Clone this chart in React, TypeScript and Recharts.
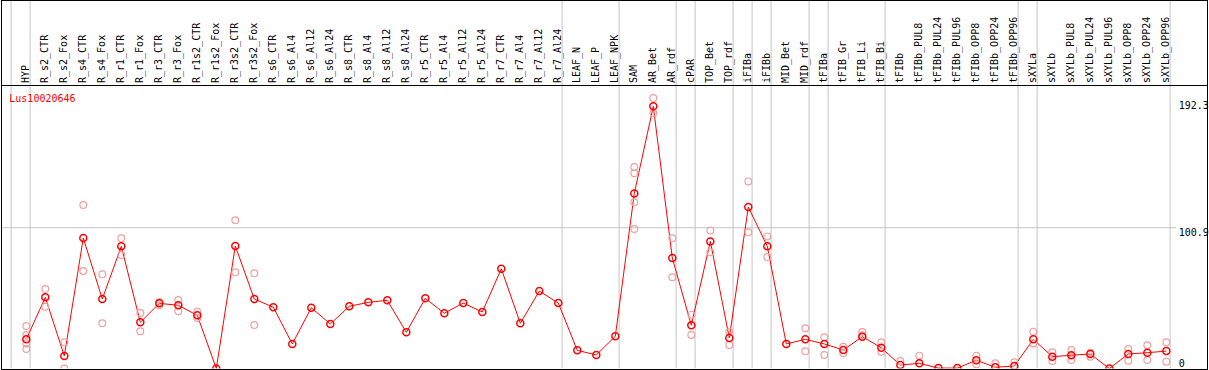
import React from 'react';
import { ComposedChart, Line, Scatter, XAxis, YAxis, ReferenceLine } from 'recharts';

const categories = [
  'HYP', 'R_s2_CTR', 'R_s2_Fox', 'R_s4_CTR', 'R_s4_Fox', 'R_r1_CTR', 'R_r1_Fox', 'R_r3_CTR', 'R_r3_Fox',
  'R_r1s2_CTR', 'R_r1s2_Fox', 'R_r3s2_CTR', 'R_r3s2_Fox', 'R_s6_CTR', 'R_s6_Al4', 'R_s6_Al12', 'R_s6_Al24',
  'R_s8_CTR', 'R_s8_Al4', 'R_s8_Al12', 'R_s8_Al24', 'R_r5_CTR', 'R_r5_Al4', 'R_r5_Al12', 'R_r5_Al24',
  'R_r7_CTR', 'R_r7_Al4', 'R_r7_Al12', 'R_r7_Al24', 'LEAF_N', 'LEAF_P', 'LEAF_NPK', 'SAM', 'AR_Bet', 'AR_rdf',
  'cPAR', 'TOP_Bet', 'TOP_rdf', 'iFIBa', 'iFIBb', 'MID_Bet', 'MID_rdf', 'tFIBa', 'tFIB_Gr', 'tFIB_Li', 'tFIB_Bi',
  'tFIBb', 'tFIBb_PUL8', 'tFIBb_PUL24', 'tFIBb_PUL96', 'tFIBb_OPP8', 'tFIBb_OPP24', 'tFIBb_OPP96',
  'sXYLa', 'sXYLb', 'sXYLb_PUL8', 'sXYLb_PUL24', 'sXYLb_PUL96', 'sXYLb_OPP8', 'sXYLb_OPP24', 'sXYLb_OPP96',
];

const means = [
  20.9, 51.0, 9.0, 93.5, 49.8, 87.6, 33.1, 46.7, 45.3,
  38.1, 0, 87.8, 49.8, 43.9, 17.6, 43.6, 31.9,
  44.6, 47.4, 48.9, 25.9, 50.3, 39.6, 46.9, 40.5,
  71.5, 32.4, 55.5, 46.9, 13.0, 9.7, 23.1, 125.5, 187.9, 79.2,
  31.0, 91.1, 21.9, 115.7, 87.6, 17.6, 20.9, 17.6, 13.3, 22.8, 14.9,
  2.5, 3.7, 0.3, 0.3, 5.9, 0.9, 1.8,
  20.9, 8.5, 9.5, 10.4, 0, 10.4, 11.3, 12.5,
];

const replicates: number[][] = [
  [30.5, 24, 18, 14], [57, 44.3], [18.8, 0], [117.2, 69.9], [67.5, 32.4], [93.3, 81.3], [39.8, 26.7], [47.6, 45.4], [49.1, 41],
  [40.7, 36.2], [], [106.2, 68.9], [68.2, 31.2], [], [], [], [],
  [], [], [], [], [], [], [], [],
  [], [], [], [], [], [], [], [144.4, 139.9, 119.1, 100.0], [193.8, 183.1], [93.3, 65.4],
  [38.6, 24], [99.0, 83.3], [26.2, 16.8], [134.1, 97.6], [94.7, 79.9], [], [28.8, 12.3], [22.4, 9.7], [15.6, 10.9], [26.2, 23.8], [18.8, 12],
  [5.4], [9.2], [], [], [9.2, 3], [3.7], [4.4],
  [26.4, 18], [11.6, 5.4], [13.3, 6.1], [11.3, 8.5], [], [14, 5.6], [16.6, 6.1], [18.8, 4.9],
];

const yTicks = [0, 100.9, 192.3];
// 1-based position of the last category of each group (0 = boundary before the first category)
const groupEnds = [0, 1, 29, 32, 35, 36, 38, 39, 40, 42, 43, 46, 53, 54, 61];
const geneName = 'Lus10020646';

const W = 1209;
const H = 370;
const SEP_OFFSET = 0.2;
const FONT = '"DejaVu Sans Mono", "Liberation Mono", monospace';
const GRID = '#c4c4c4';

const lineData = categories.map((c, i) => ({ pos: i + 1, mean: means[i], name: c }));
const repData = replicates.flatMap((arr, i) => arr.map((v) => ({ pos: i + 1, mean: v })));
const separators = groupEnds.map((g) => g + SEP_OFFSET);
const topTicks = [...categories.map((_, i) => i + 1), ...separators];

const TopTick = (props: any) => {
  const { x, y, payload } = props;
  const v = payload.value;
  if (!Number.isInteger(v)) {
    return <line x1={x} x2={x} y1={0} y2={y} stroke={GRID} strokeWidth={1} />;
  }
  return (
    <text
      transform={`translate(${x + 3},${y - 2}) rotate(-90)`}
      x={0}
      y={0}
      textAnchor="start"
      fontFamily={FONT}
      fontSize={10}
      fill="#000"
    >
      {categories[v - 1]}
    </text>
  );
};

const RightTick = (props: any) => {
  const { x, y, payload } = props;
  const v = payload.value;
  return (
    <text x={x + 2.7} y={v === 0 ? y - 2 : y + 8.5} textAnchor="start" fontFamily={FONT} fontSize={10} fill="#000">
      {String(v)}
    </text>
  );
};

const MeanDot = (p: any) => {
  if (p.cx == null || p.cy == null) return <g key={p.index} />;
  return <circle key={p.index} cx={p.cx} cy={p.cy} r={3.5} fill="none" stroke="#ff0000" strokeWidth={1.5} />;
};

const RepDot = (p: any) => (
  <circle cx={p.cx} cy={p.cy} r={3.4} fill="none" stroke="#f0a0a0" strokeWidth={1.2} />
);

export default function App() {
  return (
    <div style={{ position: 'absolute', left: 0, top: 0, width: W, height: H, background: '#fff' }}>
      <ComposedChart width={W} height={H} data={lineData} margin={{ top: 0, right: 0, bottom: 1.5, left: 1 }}>
        <XAxis
          dataKey="pos"
          type="number"
          orientation="top"
          domain={[-0.332, 61.51]}
          allowDataOverflow
          ticks={topTicks}
          interval={0}
          height={85}
          axisLine={false}
          tickLine={false}
          tickSize={0}
          tickMargin={0}
          tick={<TopTick />}
        />
        <YAxis
          type="number"
          orientation="right"
          domain={[0, 203.2]}
          allowDataOverflow
          ticks={yTicks}
          interval={0}
          width={33}
          axisLine={false}
          tickLine={false}
          tickSize={0}
          tickMargin={0}
          tick={<RightTick />}
        />
        <ReferenceLine y={100.9} stroke={GRID} strokeWidth={1} ifOverflow="visible" />
        {separators.map((s) => (
          <ReferenceLine key={s} x={s} stroke={GRID} strokeWidth={1} ifOverflow="visible" />
        ))}
        <Scatter data={repData} dataKey="mean" shape={RepDot} isAnimationActive={false} />
        <Line
          type="linear"
          dataKey="mean"
          stroke="#ff0000"
          strokeWidth={1}
          dot={MeanDot}
          activeDot={false}
          isAnimationActive={false}
        />
      </ComposedChart>
      <svg width={W} height={H} style={{ position: 'absolute', left: 0, top: 0, pointerEvents: 'none' }}>
        <rect x={1.5} y={0.5} width={1206} height={369} fill="none" stroke="#000" strokeWidth={1} />
        <line x1={1.5} x2={1207.5} y1={85.5} y2={85.5} stroke="#000" strokeWidth={1} />
        <text x={9.3} y={101.5} fontFamily={FONT} fontSize={10} fill="#ff0000">
          {geneName}
        </text>
      </svg>
    </div>
  );
}
